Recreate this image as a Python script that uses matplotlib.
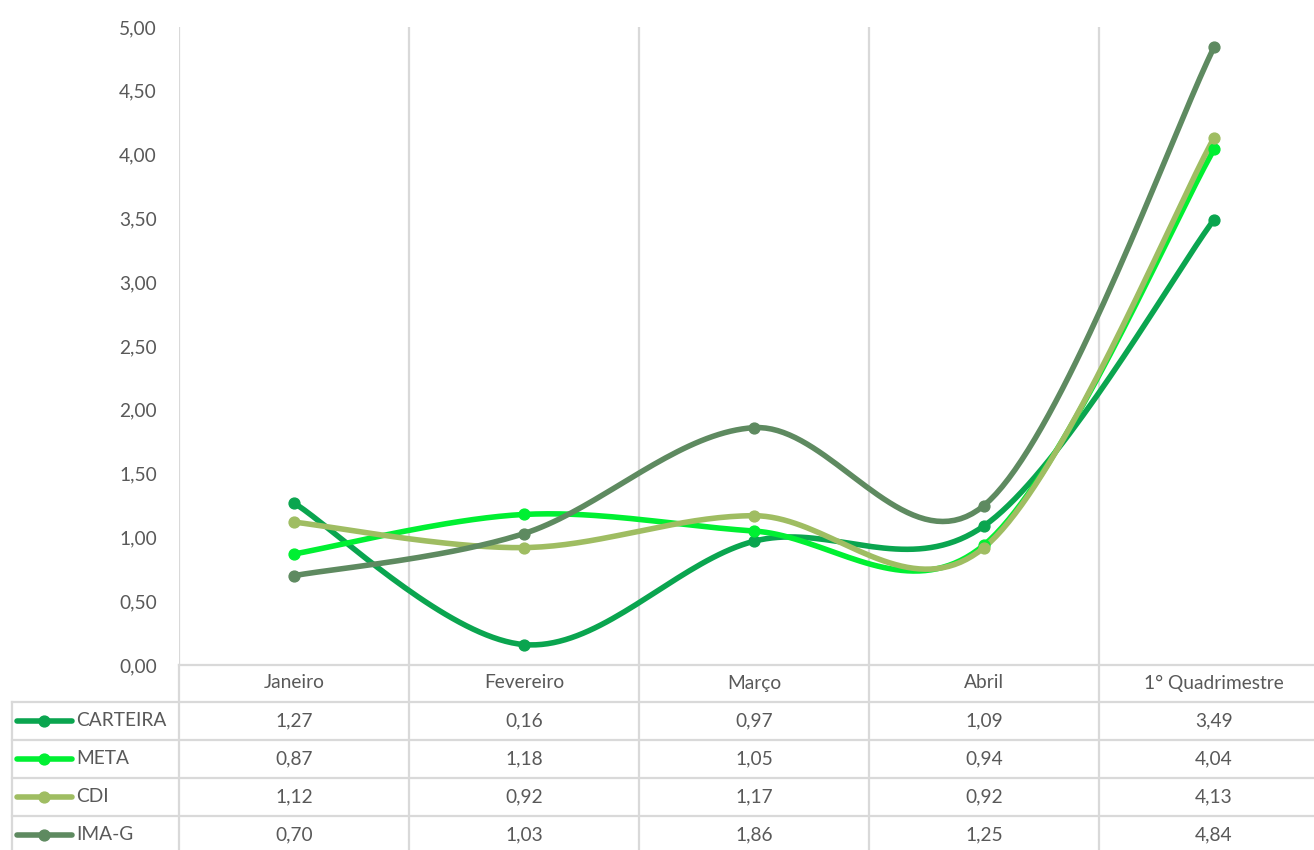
import numpy as np
import matplotlib
matplotlib.use("Agg")
import matplotlib.pyplot as plt
from matplotlib.lines import Line2D

plt.rcParams['font.family'] = ['Lato', 'DejaVu Sans']

categorias = ["Janeiro", "Fevereiro", "Março", "Abril", "1° Quadrimestre"]
series = ["CARTEIRA", "META", "CDI", "IMA-G"]
carteira = [1.27, 0.16, 0.97, 1.09, 3.49]
meta = [0.87, 1.18, 1.05, 0.94, 4.04]
cdi = [1.12, 0.92, 1.17, 0.92, 4.13]
ima_g = [0.70, 1.03, 1.86, 1.25, 4.84]
cores = ["#0aa54f", "#00f032", "#9fbd62", "#5e8a60"]

valores = [carteira, meta, cdi, ima_g]
TXT = "#595959"
GRADE = "#d9d9d9"
FS = 13.8


def suaviza(x, y, passos=40):
    # curva suave estilo Excel: Bezier com controles (P2 - P0) / 6
    x = np.asarray(x, float)
    y = np.asarray(y, float)
    n = len(x)
    xs, ys = [], []
    t = np.linspace(0, 1, passos)
    for i in range(n - 1):
        p0 = np.array([x[max(i - 1, 0)], y[max(i - 1, 0)]])
        p1 = np.array([x[i], y[i]])
        p2 = np.array([x[i + 1], y[i + 1]])
        p3 = np.array([x[min(i + 2, n - 1)], y[min(i + 2, n - 1)]])
        c1 = p1 + (p2 - p0) / 6
        c2 = p2 - (p3 - p1) / 6
        b = ((1 - t) ** 3)[:, None] * p1 + (3 * (1 - t) ** 2 * t)[:, None] * c1 \
            + (3 * (1 - t) * t ** 2)[:, None] * c2 + (t ** 3)[:, None] * p2
        xs.extend(b[:, 0])
        ys.extend(b[:, 1])
    return xs, ys


W, H = 1314, 850
fig = plt.figure(figsize=(W / 100, H / 100), dpi=100)

x0, xtopo, xbase = 179, 27, 665
largura = 230
xmax = (W - x0) / largura - 0.5

ax = fig.add_axes([x0 / W, (H - xbase) / H, (W - x0) / W, (xbase - xtopo) / H])
ax.set_xlim(-0.5, xmax)
ax.set_ylim(0, 5)
x = np.arange(len(categorias))

for nome, vals, cor in zip(series, valores, cores):
    xs, ys = suaviza(x, vals)
    ax.plot(xs, ys, color=cor, lw=4.0, solid_capstyle='round', zorder=3)
    ax.plot(x, vals, 'o', color=cor, ms=7.8, zorder=4)

for s in ax.spines.values():
    s.set_visible(False)
ax.set_xticks([])
ax.set_yticks(np.arange(0, 5.01, 0.5))
ax.set_yticklabels([f"{v:.2f}".replace(".", ",") for v in np.arange(0, 5.01, 0.5)],
                   fontsize=FS, color=TXT)
ax.tick_params(axis='y', length=0, pad=16)
for xv in np.arange(-0.5, 4.6, 1.0):
    ax.axvline(xv, color=GRADE, lw=1.6, zorder=1)

# tabela de dados abaixo do grafico
tab = fig.add_axes([x0 / W, 0, (W - x0) / W, (H - xbase) / H])
tab.set_xlim(-0.5, xmax)
tab.set_ylim(H - xbase, 0)
tab.axis('off')

x_leg = -0.5 - (x0 - 12) / largura
linhas_y = [37, 75, 113, 151]
centros = [18, 56, 94, 132, 170]

tab.plot([-0.5, 5], [0, 0], color=GRADE, lw=1.6, clip_on=False)
for ly in linhas_y:
    tab.plot([x_leg, 5], [ly, ly], color=GRADE, lw=1.6, clip_on=False)
tab.plot([x_leg, x_leg], [linhas_y[0], 200], color=GRADE, lw=1.6, clip_on=False)
for xv in np.arange(-0.5, 4.6, 1.0):
    tab.plot([xv, xv], [0, 200], color=GRADE, lw=1.6, clip_on=False)

for i, cat in enumerate(categorias):
    tab.text(i, centros[0], cat, ha='center', va='center', fontsize=FS, color=TXT)

for r, (nome, vals, cor) in enumerate(zip(series, valores, cores)):
    yc = centros[r + 1]
    xa = x_leg + 5 / largura
    xb = x_leg + 60 / largura
    tab.add_line(Line2D([xa, xb], [yc, yc], color=cor, lw=4.0,
                        solid_capstyle='round', clip_on=False))
    tab.plot([(xa + xb) / 2], [yc], 'o', color=cor, ms=7.8, clip_on=False)
    tab.text(x_leg + 64 / largura, yc, nome, ha='left', va='center',
             fontsize=FS, color=TXT, clip_on=False)
    for i, v in enumerate(vals):
        tab.text(i, yc, f"{v:.2f}".replace(".", ","), ha='center', va='center',
                 fontsize=FS, color=TXT)

fig.savefig("out.png", dpi=100)
